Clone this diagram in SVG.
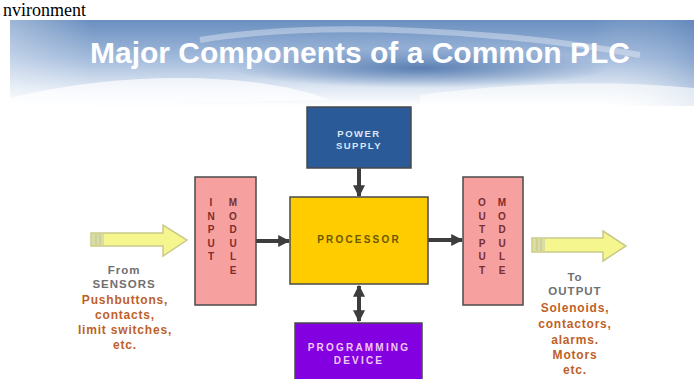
<svg xmlns="http://www.w3.org/2000/svg" width="694" height="379" viewBox="0 0 694 379">
<style>
.box{stroke:#4a4a4a;stroke-width:1.5}
.lbl{font-family:"Liberation Sans",Arial,sans-serif;font-weight:bold;text-anchor:middle}
.mod{font-family:"Liberation Sans",Arial,sans-serif;font-weight:bold;font-size:10px;fill:#7a2e2e;text-anchor:middle}
.conn{stroke:#3d3d3d;stroke-width:4;fill:none}
.src{font-family:"Liberation Sans",Arial,sans-serif;font-weight:bold;font-size:11.5px;fill:#707070;text-anchor:middle;letter-spacing:1px}
.ex{font-family:"Liberation Sans",Arial,sans-serif;font-weight:bold;font-size:12px;fill:#bf5f28;text-anchor:middle;letter-spacing:0.8px}
.yarrow{fill:#f6f68e;stroke:#c9c98a;stroke-width:1.5}
</style>
<defs>
<linearGradient id="bg" x1="0" y1="0" x2="0" y2="1">
<stop offset="0" stop-color="#6a8fc0"/>
<stop offset="0.45" stop-color="#a3bbdc"/>
<stop offset="0.8" stop-color="#e0e9f4"/>
<stop offset="1" stop-color="#ffffff"/>
</linearGradient>
<linearGradient id="side" x1="0" y1="0" x2="1" y2="0">
<stop offset="0" stop-color="#ffffff" stop-opacity="0.35"/>
<stop offset="0.12" stop-color="#ffffff" stop-opacity="0"/>
<stop offset="0.85" stop-color="#ffffff" stop-opacity="0"/>
<stop offset="1" stop-color="#4f78b0" stop-opacity="0.3"/>
</linearGradient>
<radialGradient id="swirl" cx="0.5" cy="0.5" r="0.5">
<stop offset="0" stop-color="#4a72aa" stop-opacity="0.85"/>
<stop offset="1" stop-color="#4a72aa" stop-opacity="0"/>
</radialGradient>
<marker id="ah" viewBox="0 0 10 10" refX="9" refY="5" markerWidth="3" markerHeight="3" orient="auto-start-reverse">
<path d="M0,0 L10,5 L0,10 z" fill="#3d3d3d"/>
</marker>
</defs>
<rect width="694" height="379" fill="#ffffff"/>
<text x="3" y="16" font-family="Liberation Serif,serif" font-size="18" fill="#000">nvironment</text>
<g id="banner">
<rect x="10" y="20" width="684" height="86" fill="url(#bg)"/>
<rect x="10" y="20" width="684" height="86" fill="url(#side)"/>
<ellipse cx="420" cy="68" rx="190" ry="20" fill="url(#swirl)"/>
<path d="M10,98 C120,70 260,72 330,100 L10,106 z" fill="#ffffff" opacity="0.7"/>
<path d="M200,40 C320,20 500,30 640,55" stroke="#ffffff" stroke-width="6" fill="none" opacity="0.35"/>
<path d="M420,95 C520,82 610,80 694,88 L694,106 L420,106 z" fill="#ffffff" opacity="0.6"/>
<text x="360" y="63" class="lbl" font-size="30" fill="#ffffff">Major Components of a Common PLC</text>
</g>
<g id="connectors">
<line class="conn" x1="359" y1="168" x2="359" y2="196" marker-end="url(#ah)"/>
<line class="conn" x1="256" y1="241" x2="289" y2="241" marker-end="url(#ah)"/>
<line class="conn" x1="428" y1="240" x2="462" y2="240" marker-end="url(#ah)"/>
<line class="conn" x1="359" y1="286" x2="359" y2="321" marker-start="url(#ah)" marker-end="url(#ah)"/>
</g>
<g id="power-supply">
<rect class="box" x="307" y="107" width="104" height="61" fill="#2b5a99"/>
<text class="lbl" x="359" y="137" font-size="9.5" fill="#dfe6f3" letter-spacing="1.5">POWER</text>
<text class="lbl" x="359" y="149" font-size="9.5" fill="#dfe6f3" letter-spacing="1.5">SUPPLY</text>
</g>
<g id="processor">
<rect class="box" x="290" y="197" width="138" height="87" fill="#ffcc00"/>
<text class="lbl" x="359" y="243" font-size="10" fill="#6b5800" letter-spacing="2.2">PROCESSOR</text>
</g>
<g id="programming-device">
<rect class="box" x="295" y="323" width="127" height="60" fill="#8300e0"/>
<text class="lbl" x="359" y="351" font-size="10" fill="#f2c8f6" letter-spacing="2.2">PROGRAMMING</text>
<text class="lbl" x="359" y="364" font-size="10" fill="#f2c8f6" letter-spacing="2.2">DEVICE</text>
</g>
<g id="input-module">
<rect class="box" x="195" y="177" width="61" height="128" fill="#f7a0a0"/>
<text class="mod" x="211" y="206">I</text>
<text class="mod" x="211" y="220">N</text>
<text class="mod" x="211" y="233">P</text>
<text class="mod" x="211" y="247">U</text>
<text class="mod" x="211" y="260">T</text>
<text class="mod" x="233" y="206">M</text>
<text class="mod" x="233" y="220">O</text>
<text class="mod" x="233" y="233">D</text>
<text class="mod" x="233" y="247">U</text>
<text class="mod" x="233" y="260">L</text>
<text class="mod" x="233" y="274">E</text>
</g>
<g id="output-module">
<rect class="box" x="463" y="177" width="60" height="128" fill="#f7a0a0"/>
<text class="mod" x="482" y="206">O</text>
<text class="mod" x="482" y="220">U</text>
<text class="mod" x="482" y="233">T</text>
<text class="mod" x="482" y="247">P</text>
<text class="mod" x="482" y="260">U</text>
<text class="mod" x="482" y="274">T</text>
<text class="mod" x="502" y="206">M</text>
<text class="mod" x="502" y="220">O</text>
<text class="mod" x="502" y="233">D</text>
<text class="mod" x="502" y="247">U</text>
<text class="mod" x="502" y="260">L</text>
<text class="mod" x="502" y="274">E</text>
</g>
<g id="sensors-input">
<polygon class="yarrow" points="91,233 163,233 163,225 187,240 163,256 163,246 91,246"/>
<rect x="92" y="234" width="12" height="11" fill="#d9dca4"/>
<line x1="96" y1="234" x2="96" y2="245" stroke="#bfc28a" stroke-width="1"/>
<line x1="100" y1="234" x2="100" y2="245" stroke="#bfc28a" stroke-width="1"/>
<text class="src" x="124" y="274">From</text>
<text class="src" x="124" y="288">SENSORS</text>
<text class="ex" x="125" y="304">Pushbuttons,</text>
<text class="ex" x="125" y="319">contacts,</text>
<text class="ex" x="125" y="334">limit switches,</text>
<text class="ex" x="125" y="349">etc.</text>
</g>
<g id="output-devices">
<polygon class="yarrow" points="532,238 603,238 603,231 626,246 603,261 603,252 532,252"/>
<rect x="533" y="239" width="12" height="12" fill="#d9dca4"/>
<line x1="537" y1="239" x2="537" y2="251" stroke="#bfc28a" stroke-width="1"/>
<line x1="541" y1="239" x2="541" y2="251" stroke="#bfc28a" stroke-width="1"/>
<text class="src" x="575" y="281">To</text>
<text class="src" x="575" y="295">OUTPUT</text>
<text class="ex" x="575" y="312">Solenoids,</text>
<text class="ex" x="575" y="328">contactors,</text>
<text class="ex" x="575" y="344">alarms.</text>
<text class="ex" x="575" y="359">Motors</text>
<text class="ex" x="575" y="374">etc.</text>
</g>
</svg>
